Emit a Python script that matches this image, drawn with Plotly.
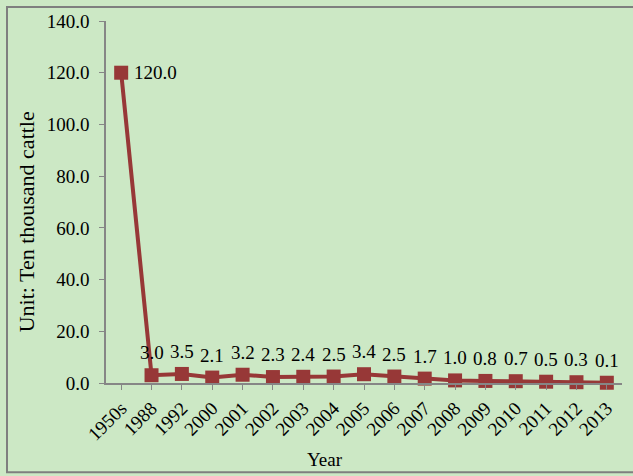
import plotly.graph_objects as go

# Cattle numbers by year (unit: ten thousand head)
years = ["1950s", "1988", "1992", "2000", "2001", "2002", "2003", "2004", "2005",
         "2006", "2007", "2008", "2009", "2010", "2011", "2012", "2013"]
cattle = [120.0, 3.0, 3.5, 2.1, 3.2, 2.3, 2.4, 2.5, 3.4, 2.5, 1.7, 1.0, 0.8, 0.7, 0.5, 0.3, 0.1]
y_ticks = [0, 20, 40, 60, 80, 100, 120, 140]

BG = "#cce8c5"
RED = "#973837"
AXIS = "#868686"
FONT = "Liberation Serif"
FS = 19

W, H = 633, 476
L, R, T, B = 106, 11, 18, 93
pw, ph = W - L - R, H - T - B


def px_x(x):
    return (x - L) / pw


def px_y(y):
    return (H - B - y) / ph


fig = go.Figure()
fig.add_trace(go.Scatter(
    x=list(range(len(years))), y=cattle,
    mode="lines+markers",
    line=dict(color=RED, width=4),
    marker=dict(symbol="square", size=14, color=RED),
    cliponaxis=False,
    hoverinfo="skip",
))

# value labels
for i, v in enumerate(cattle):
    if i == 0:
        fig.add_annotation(x=i, y=v, text=f"{v:.1f}", showarrow=False,
                           xanchor="left", yanchor="middle", xshift=11,
                           font=dict(family=FONT, size=FS, color="black"))
    else:
        fig.add_annotation(x=i, y=v, text=f"{v:.1f}", showarrow=False,
                           xanchor="center", yanchor="bottom", yshift=10,
                           font=dict(family=FONT, size=FS, color="black"))

# axis titles
fig.add_annotation(xref="paper", yref="paper", x=px_x(325), y=px_y(460),
                   text="Year", showarrow=False, xanchor="center", yanchor="middle",
                   font=dict(family=FONT, size=FS, color="black"))
fig.add_annotation(xref="paper", yref="paper", x=px_x(26), y=px_y(221),
                   text="Unit: Ten thousand cattle", showarrow=False, textangle=-90,
                   xanchor="center", yanchor="middle",
                   font=dict(family=FONT, size=22, color="black"))

# outer frame of the chart
fig.add_shape(type="rect", xref="paper", yref="paper",
              x0=px_x(7), x1=px_x(W + 10), y0=px_y(473), y1=px_y(4),
              line=dict(color="#7f7f7f", width=2), fillcolor="rgba(0,0,0,0)", layer="below")

fig.update_layout(
    width=W, height=H,
    margin=dict(l=L, r=R, t=T, b=B),
    paper_bgcolor=BG, plot_bgcolor=BG,
    showlegend=False,
    font=dict(family=FONT, size=FS, color="black"),
    xaxis=dict(
        range=[-0.5, len(years) - 0.5],
        tickmode="array", tickvals=list(range(len(years))), ticktext=years,
        tickangle=-45, showgrid=False, zeroline=False,
        showline=True, linecolor=AXIS, linewidth=1.5,
        ticks="outside", ticklen=5, tickcolor=AXIS, tickson="boundaries",
        tickfont=dict(family=FONT, size=FS),
    ),
    yaxis=dict(
        range=[0, 140], tickvals=y_ticks, ticktext=[f"{t:.1f}" for t in y_ticks],
        showgrid=False, zeroline=False,
        showline=True, linecolor=AXIS, linewidth=1.5,
        ticks="outside", ticklen=5, tickcolor=AXIS,
        ticklabelstandoff=6,
        tickfont=dict(family=FONT, size=FS),
    ),
)

fig.write_html("out.html")
